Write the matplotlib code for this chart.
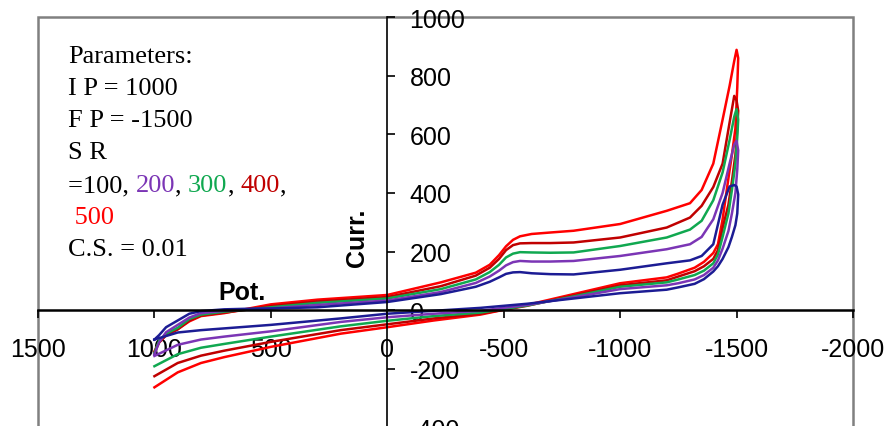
import matplotlib
matplotlib.use("Agg")
import matplotlib.pyplot as plt
from matplotlib.patches import Rectangle

# potential nodes (mV) of the forward scan (1000 -> -1500) and the reverse scan (-1500 -> 1000)
fwd_pot = [1000, 980, 950, 900, 850, 800, 700, 600, 500, 300, 0, -230, -380, -440, -480,
           -510, -540, -570, -620, -700, -800, -1000, -1200, -1300, -1350, -1400, -1440,
           -1470, -1490, -1500]
rev_pot = [-1507, -1503, -1495, -1480, -1465, -1440, -1420, -1400, -1360, -1320, -1250,
           -1200, -1000, -800, -600, -400, -200, 0, 200, 500, 700, 800, 900, 1000]

# currents, one pair of lists per scan rate
sr100_fwd = [-100, -85, -58, -35, -12, -3, 3, 5, 6, 10, 28, 55, 80, 97, 112, 124, 129, 130,
             126, 123, 122, 138, 160, 170, 185, 225, 360, 422, 427, 422]
sr100_rev = [395, 330, 290, 250, 215, 175, 150, 132, 106, 90, 78, 70, 58, 40, 22, 8, -2,
             -12, -28, -50, -62, -68, -76, -100]

sr200_fwd = [-150, -110, -75, -50, -25, -10, -2, 3, 6, 18, 33, 62, 93, 115, 135, 153, 164,
             168, 166, 166, 168, 185, 208, 225, 250, 310, 400, 500, 565, 578]
sr200_rev = [545, 480, 400, 330, 270, 210, 170, 145, 120, 105, 92, 85, 72, 44, 18, -2, -12,
             -24, -40, -72, -90, -100, -118, -156]

sr300_fwd = [-145, -105, -80, -60, -30, -15, -5, 2, 10, 25, 40, 72, 105, 130, 155, 180, 193,
             198, 197, 196, 197, 219, 248, 275, 305, 375, 470, 580, 660, 686]
sr300_rev = [650, 590, 500, 410, 330, 250, 190, 160, 135, 120, 105, 95, 80, 47, 16, -8, -20,
             -36, -55, -90, -115, -128, -150, -191]

sr400_fwd = [-145, -110, -85, -65, -35, -18, -8, 2, 14, 30, 45, 82, 118, 145, 175, 205, 222,
             228, 229, 229, 231, 248, 282, 316, 356, 420, 500, 640, 731, 715]
sr400_rev = [680, 620, 530, 440, 360, 280, 205, 175, 150, 133, 115, 102, 85, 50, 15, -12, -28,
             -48, -68, -108, -138, -155, -180, -225]

sr500_fwd = [-140, -110, -85, -65, -38, -20, -10, 5, 20, 36, 52, 95, 128, 155, 188, 218, 240,
             252, 260, 265, 271, 294, 339, 365, 410, 500, 650, 765, 850, 888]
sr500_rev = [860, 760, 620, 530, 450, 310, 225, 195, 165, 145, 125, 112, 92, 55, 18, -15, -35,
             -58, -80, -125, -160, -180, -212, -263]

x_ticks = [1500, 1000, 500, 0, -500, -1000, -1500, -2000]
y_ticks = [-400, -200, 0, 200, 400, 600, 800, 1000]

col_100 = "#1C1C94"
col_200 = "#7B35B5"
col_300 = "#10A850"
col_400 = "#C00000"
col_500 = "#FF0000"

fig = plt.figure(figsize=(8.87, 4.27), dpi=100)
ax = fig.add_axes([38 / 887, -1.5 / 427, 815 / 887, 410.5 / 427])

scans = [(sr500_fwd, sr500_rev, col_500), (sr400_fwd, sr400_rev, col_400),
         (sr300_fwd, sr300_rev, col_300), (sr200_fwd, sr200_rev, col_200),
         (sr100_fwd, sr100_rev, col_100)]
for fwd, rev, c in scans:
    ax.plot(fwd_pot + rev_pot, fwd + rev, color=c, lw=1.8, solid_joinstyle="round")

ax.set_xlim(1500, -2000)
ax.set_ylim(-400, 1000)

# axes cross at zero, grey box around the plot area
ax.spines["left"].set_visible(False)
ax.spines["top"].set_visible(False)
ax.spines["right"].set_position(("data", 0))
ax.spines["bottom"].set_position(("data", 0))
ax.spines["right"].set_linewidth(1.2)
ax.spines["bottom"].set_linewidth(1.8)
ax.add_patch(Rectangle((0, 0), 1, 1, transform=ax.transAxes, fill=False,
                       ec="#808080", lw=1.8, clip_on=False, zorder=0))

ax.yaxis.tick_right()
ax.set_xticks(x_ticks)
ax.set_yticks(y_ticks)
ax.set_xticklabels([str(v) for v in x_ticks])
ax.set_yticklabels([str(v) for v in y_ticks])
ax.tick_params(axis="x", direction="out", length=6, width=1.2, pad=13, labelsize=18)
ax.tick_params(axis="y", direction="out", length=6, width=1.2, pad=10, labelsize=18)
for lab in ax.get_xticklabels() + ax.get_yticklabels():
    lab.set_fontfamily("Liberation Sans")

ax.text(623, 37, "Pot.", fontsize=18, fontweight="bold", family="Liberation Sans",
        ha="center", va="baseline")
ax.text(132, 249, "Curr.", fontsize=18, fontweight="bold", family="Liberation Sans",
        rotation=90, ha="center", va="center")

# parameter box text
serif = dict(family="Liberation Serif", fontsize=19, va="baseline", ha="left")
tx = 68 / 887
fig.text(tx, 1 - 63 / 427, "Parameters:", **serif)
fig.text(tx, 1 - 95 / 427, "I P = 1000", **serif)
fig.text(tx, 1 - 127 / 427, "F P = -1500", **serif)
fig.text(tx, 1 - 159 / 427, "S R", **serif)

# coloured scan rates on one line: place each piece right after the previous one
renderer = fig.canvas.get_renderer()
line_y = 1 - 192 / 427
x = tx
for piece, c in [("=100, ", "black"), ("200", col_200), (", ", "black"), ("300", col_300),
                 (", ", "black"), ("400", col_400), (",", "black")]:
    t = fig.text(x, line_y, piece, color=c, **serif)
    bb = t.get_window_extent(renderer)
    x = bb.x1 / fig.bbox.width
fig.text(tx, 1 - 224 / 427, " 500", color=col_500, **serif)
fig.text(tx, 1 - 256 / 427, "C.S. = 0.01", **serif)

fig.savefig("out.png", dpi=100)
